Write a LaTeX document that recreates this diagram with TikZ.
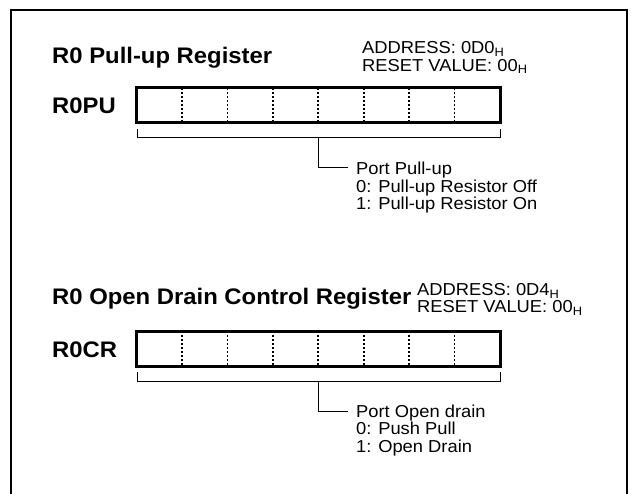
\documentclass[tikz,border=0pt]{standalone}
\usepackage{fontspec}
\setmainfont{Liberation Sans}[FakeStretch=1.06]
\begin{document}
\begin{tikzpicture}[x=1pt,y=-1pt,
  frame/.style={line width=2pt},
  regbox/.style={line width=3pt},
  bitsep/.style={line width=1.6pt,dash pattern=on 2.4pt off 1.6pt},
  brace/.style={line width=1pt},
  titletext/.style={anchor=base west,inner sep=0pt,font=\fontsize{22.5}{24}\selectfont\bfseries},
  regname/.style={anchor=base west,inner sep=0pt,font=\fontsize{22.5}{24}\selectfont\bfseries},
  addrtext/.style={anchor=base west,inner sep=0pt,font=\fontsize{17.3}{17}\selectfont},
  smalltext/.style={anchor=base west,inner sep=0pt,font=\fontsize{17.3}{16}\selectfont}]
\useasboundingbox (0,0) rectangle (631,494);
\fill[white] (0,0) rectangle (631,494);
% outer frame (open at bottom)
\coordinate (fbl) at (11,494);
\coordinate (ftl) at (11,10);
\coordinate (ftr) at (627,10);
\coordinate (fbr) at (627,494);
\draw[frame] (fbl) -- (ftl) -- (ftr) -- (fbr);

% ---------- Register 1 ----------
\node[titletext] (t1) at (52,64) {R0 Pull-up Register};
\node[addrtext] (a1) at (362,54) {\begin{tabular}[t]{@{}l@{}}ADDRESS: 0D0\textsubscript{H}\\RESET VALUE: 00\textsubscript{H}\end{tabular}};
\node[regname] (n1) at (52,114) {R0PU};
\coordinate (b1nw) at (136.5,88);
\coordinate (b1se) at (500,123);
\foreach \k in {1,...,7} {
  \coordinate (d1t\k) at (136.5+\k*45.44,88);
  \coordinate (d1b\k) at (136.5+\k*45.44,123);
  \draw[bitsep] (d1t\k) -- (d1b\k);
}
\draw[regbox] (b1nw) rectangle (b1se);
\coordinate (k1l) at (137,129);
\coordinate (k1a) at (137,138);
\coordinate (k1b) at (500,138);
\coordinate (k1r) at (500,129);
\draw[brace] (k1l) -- (k1a) -- (k1b) -- (k1r);
\coordinate (v1a) at (318,138);
\coordinate (v1b) at (318,168);
\coordinate (v1c) at (348,168);
\draw[brace] (v1a) -- (v1b) -- (v1c);
\node[smalltext] (p1) at (356,175) {\begin{tabular}[t]{@{}l@{}}Port Pull-up\\0: Pull-up Resistor Off\\1: Pull-up Resistor On\end{tabular}};

% ---------- Register 2 ----------
\node[titletext] (t2) at (52,304) {R0 Open Drain Control Register};
\node[addrtext] (a2) at (417,295.5) {\begin{tabular}[t]{@{}l@{}}ADDRESS: 0D4\textsubscript{H}\\RESET VALUE: 00\textsubscript{H}\end{tabular}};
\node[regname] (n2) at (52,357) {R0CR};
\coordinate (b2nw) at (136.5,331);
\coordinate (b2se) at (500,366);
\foreach \k in {1,...,7} {
  \coordinate (d2t\k) at (136.5+\k*45.44,331);
  \coordinate (d2b\k) at (136.5+\k*45.44,366);
  \draw[bitsep] (d2t\k) -- (d2b\k);
}
\draw[regbox] (b2nw) rectangle (b2se);
\coordinate (k2l) at (137,372);
\coordinate (k2a) at (137,381);
\coordinate (k2b) at (500,381);
\coordinate (k2r) at (500,372);
\draw[brace] (k2l) -- (k2a) -- (k2b) -- (k2r);
\coordinate (v2a) at (318,381);
\coordinate (v2b) at (318,411.5);
\coordinate (v2c) at (348,411.5);
\draw[brace] (v2a) -- (v2b) -- (v2c);
\node[smalltext] (p2) at (356,417.5) {\begin{tabular}[t]{@{}l@{}}Port Open drain\\0: Push Pull\\1: Open Drain\end{tabular}};
\end{tikzpicture}
\end{document}
